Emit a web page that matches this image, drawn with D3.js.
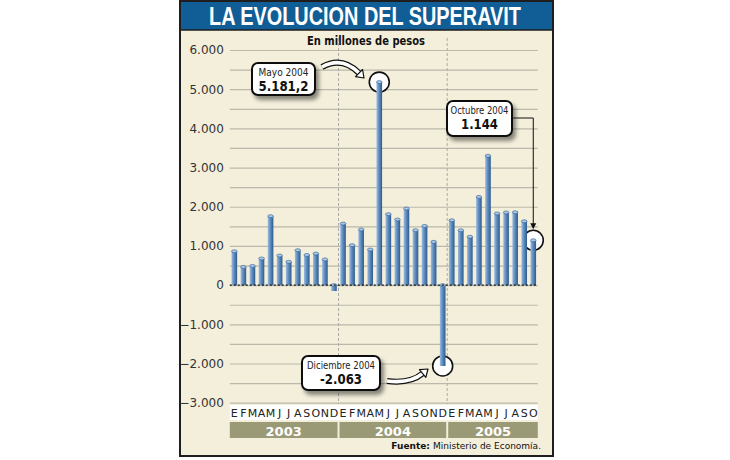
<!DOCTYPE html>
<html>
<head>
<meta charset="utf-8">
<script src="https://cdn.jsdelivr.net/npm/d3@7"></script>
<style>
  body { margin: 0; background: #fff; }
  svg { display: block; }
</style>
</head>
<body>
<svg id="chart" width="730" height="460"></svg>
<script>
// monthly data, Jan 2003 - Oct 2005 (millones de pesos)
const months = ['E','F','M','A','M','J','J','A','S','O','N','D',
                'E','F','M','A','M','J','J','A','S','O','N','D',
                'E','F','M','A','M','J','J','A','S','O'];
const years = ['2003', '2004', '2005'];
const yearMonths = [12, 12, 10];
const values = [865, 465, 490, 680, 1760, 755, 595, 890, 770, 805, 655, -150,
                1570, 1020, 1420, 910, 5181.2, 1810, 1675, 1955, 1400, 1510, 1105, -2063,
                1655, 1400, 1235, 2250, 3300, 1830, 1855, 1860, 1630, 1144];
const yTicks = [-3000, -2000, -1000, 0, 1000, 2000, 3000, 4000, 5000, 6000];
const gridTicks = d3.range(-3000, 6001, 500);
const callouts = [
    {idx: 16, label: 'Mayo 2004', value: '5.181,2'},
    {idx: 23, label: 'Diciembre 2004', value: '-2.063'},
    {idx: 33, label: 'Octubre 2004', value: '1.144'}
];

const svg = d3.select('#chart');
const locale = d3.formatLocale({decimal: ',', thousands: '.', grouping: [3], currency: ['$', '']});
const fmt = locale.format(',d');

const left = 229.8, right = 537.8;
const x = d3.scaleBand()
    .domain(d3.range(values.length))
    .range([left, right])
    .paddingInner(0.38)
    .paddingOuter(0.19);
const y = d3.scaleLinear()
    .domain([-3000, 6000])
    .range([402.7, 50]);

const defs = svg.append('defs');
const grad = defs.append('linearGradient').attr('id', 'barGrad')
    .attr('x1', 0).attr('x2', 1).attr('y1', 0).attr('y2', 0);
grad.append('stop').attr('offset', 0).attr('stop-color', '#9dbbe0');
grad.append('stop').attr('offset', 0.45).attr('stop-color', '#5f8dbf');
grad.append('stop').attr('offset', 1).attr('stop-color', '#2d5b8e');
const shadow = defs.append('filter').attr('id', 'shadow')
    .attr('x', '-20%').attr('y', '-20%').attr('width', '150%').attr('height', '160%');
shadow.append('feGaussianBlur').attr('in', 'SourceAlpha').attr('stdDeviation', 2);
shadow.append('feOffset').attr('dx', 3).attr('dy', 4).attr('result', 'off');
shadow.append('feComponentTransfer').append('feFuncA').attr('type', 'linear').attr('slope', 0.45);
const merge = shadow.append('feMerge');
merge.append('feMergeNode');
merge.append('feMergeNode').attr('in', 'SourceGraphic');

// frame
svg.append('rect')
    .attr('x', 180).attr('y', 1).attr('width', 373).attr('height', 455)
    .attr('fill', '#f3efdb').attr('stroke', '#1e1e1e').attr('stroke-width', 2);
svg.append('rect')
    .attr('x', 181).attr('y', 2).attr('width', 371).attr('height', 28)
    .attr('fill', '#115e96');
svg.append('line')
    .attr('x1', 181).attr('x2', 552).attr('y1', 30).attr('y2', 30)
    .attr('stroke', '#1e1e1e').attr('stroke-width', 1.5);
svg.append('text')
    .attr('x', 365).attr('y', 25)
    .attr('text-anchor', 'middle')
    .attr('textLength', 312).attr('lengthAdjust', 'spacingAndGlyphs')
    .attr('font-family', 'Liberation Sans, Arial, sans-serif')
    .attr('font-weight', 'bold').attr('font-size', 25)
    .attr('fill', '#fff')
    .text('LA EVOLUCION DEL SUPERAVIT');
svg.append('text')
    .attr('x', 366).attr('y', 45)
    .attr('text-anchor', 'middle')
    .attr('font-family', 'DejaVu Sans, sans-serif')
    .attr('font-weight', 'bold').attr('font-size', 11.5)
    .attr('textLength', 118).attr('lengthAdjust', 'spacingAndGlyphs')
    .attr('fill', '#111')
    .text('En millones de pesos');

// gridlines
const grid = svg.append('g')
    .attr('transform', `translate(${left},0)`)
    .call(d3.axisLeft(y).tickValues(gridTicks).tickSize(-(right - left)).tickFormat(''));
grid.select('.domain').remove();
grid.selectAll('.tick line').attr('stroke', '#bcb8ab').attr('stroke-width', 1.2);

// y axis labels
const yAxis = svg.append('g')
    .attr('transform', `translate(${left},0)`)
    .call(d3.axisLeft(y).tickValues(yTicks).tickSize(0).tickPadding(6).tickFormat(fmt));
yAxis.select('.domain').remove();
yAxis.selectAll('text')
    .attr('font-family', 'DejaVu Sans, sans-serif')
    .attr('font-size', 12)
    .attr('fill', '#333');

// year separators
let acc = 0;
const seps = [];
yearMonths.slice(0, -1).forEach(n => { acc += n; seps.push(acc); });
const halfGap = x.step() * x.paddingInner() / 2;
svg.selectAll('.sep')
    .data(seps)
    .join('line')
    .attr('class', 'sep')
    .attr('x1', d => x(d) - halfGap)
    .attr('x2', d => x(d) - halfGap)
    .attr('y1', 38).attr('y2', 404)
    .attr('stroke', '#aaa').attr('stroke-dasharray', '3,2');

// circles behind bars
svg.selectAll('.ring')
    .data(callouts)
    .join('circle')
    .attr('class', 'ring')
    .attr('cx', d => x(d.idx) + x.bandwidth() / 2)
    .attr('cy', d => y(values[d.idx]))
    .attr('r', 10)
    .attr('fill', '#fff').attr('stroke', '#111').attr('stroke-width', 1.6);

// bars
const bars = svg.selectAll('.bar')
    .data(values)
    .join('g')
    .attr('class', 'bar');
bars.append('rect')
    .attr('x', (d, i) => x(i))
    .attr('y', d => Math.min(y(d), y(0)))
    .attr('width', x.bandwidth())
    .attr('height', d => Math.abs(y(d) - y(0)))
    .attr('fill', 'url(#barGrad)');
bars.append('ellipse')
    .attr('cx', (d, i) => x(i) + x.bandwidth() / 2)
    .attr('cy', d => Math.min(y(d), y(0)))
    .attr('rx', x.bandwidth() / 2)
    .attr('ry', 1.5)
    .attr('fill', '#a8c6e6').attr('stroke', '#2d5b8e').attr('stroke-width', 0.6);

// zero line
svg.append('line')
    .attr('x1', left).attr('x2', right)
    .attr('y1', y(0)).attr('y2', y(0))
    .attr('stroke', '#111').attr('stroke-width', 1.3)
    .attr('stroke-dasharray', '2,2');

// month row
svg.append('rect')
    .attr('x', left).attr('y', 405).attr('width', right - left).attr('height', 15)
    .attr('fill', '#fff');
svg.selectAll('.month')
    .data(months)
    .join('text')
    .attr('class', 'month')
    .attr('x', (d, i) => x(i) + x.bandwidth() / 2)
    .attr('y', 417)
    .attr('text-anchor', 'middle')
    .attr('font-family', 'DejaVu Sans, sans-serif')
    .attr('font-size', 11)
    .attr('fill', '#222')
    .text(d => d);

// year bands
let start = 0;
const yearData = years.map((yr, i) => {
    const o = {year: yr, from: start, to: start + yearMonths[i] - 1};
    start += yearMonths[i];
    return o;
});
const bandX0 = d => d.from === 0 ? left : x(d.from) - halfGap + 1;
const bandX1 = d => d.to === values.length - 1 ? right : x(d.to) + x.bandwidth() + halfGap - 1;
svg.selectAll('.yearBand')
    .data(yearData)
    .join('rect')
    .attr('class', 'yearBand')
    .attr('x', bandX0)
    .attr('y', 422)
    .attr('width', d => bandX1(d) - bandX0(d))
    .attr('height', 16)
    .attr('fill', '#9b9a77');
svg.selectAll('.yearLabel')
    .data(yearData)
    .join('text')
    .attr('class', 'yearLabel')
    .attr('x', d => (bandX0(d) + bandX1(d)) / 2)
    .attr('y', 435.5)
    .attr('text-anchor', 'middle')
    .attr('font-family', 'DejaVu Sans, sans-serif')
    .attr('font-weight', 'bold').attr('font-size', 13)
    .attr('fill', '#fff')
    .text(d => d.year);

// source
const src = svg.append('text')
    .attr('x', 541).attr('y', 449)
    .attr('text-anchor', 'end')
    .attr('font-family', 'DejaVu Sans, sans-serif')
    .attr('font-size', 9)
    .attr('fill', '#111');
src.append('tspan').attr('font-weight', 'bold').text('Fuente: ');
src.append('tspan').text('Ministerio de Economía.');

// callout boxes
const boxes = [
    {x: 252, y: 63, w: 63, h: 32, lw: 50, vw: 50},
    {x: 302, y: 356, w: 78, h: 34, lw: 68, vw: 42},
    {x: 447, y: 101, w: 65, h: 35, lw: 58, vw: 37}
];
const boxG = svg.selectAll('.callout')
    .data(callouts)
    .join('g')
    .attr('class', 'callout');
boxG.append('rect')
    .attr('x', (d, i) => boxes[i].x).attr('y', (d, i) => boxes[i].y)
    .attr('width', (d, i) => boxes[i].w).attr('height', (d, i) => boxes[i].h)
    .attr('rx', 6)
    .attr('fill', '#fff').attr('stroke', '#111').attr('stroke-width', 2)
    .attr('filter', 'url(#shadow)');
boxG.append('text')
    .attr('x', (d, i) => boxes[i].x + boxes[i].w / 2)
    .attr('y', (d, i) => boxes[i].y + 13)
    .attr('text-anchor', 'middle')
    .attr('textLength', (d, i) => boxes[i].lw).attr('lengthAdjust', 'spacingAndGlyphs')
    .attr('font-family', 'DejaVu Sans, sans-serif')
    .attr('font-size', 10.5)
    .attr('fill', '#222')
    .text(d => d.label);
boxG.append('text')
    .attr('x', (d, i) => boxes[i].x + boxes[i].w / 2)
    .attr('y', (d, i) => boxes[i].y + 28)
    .attr('text-anchor', 'middle')
    .attr('textLength', (d, i) => boxes[i].vw).attr('lengthAdjust', 'spacingAndGlyphs')
    .attr('font-family', 'DejaVu Sans, sans-serif')
    .attr('font-weight', 'bold').attr('font-size', 14.5)
    .attr('fill', '#111')
    .text(d => d.value);

// curved white arrows
function curvedArrow(x0, y0, cx, cy, x1, y1) {
    const ang = Math.atan2(y1 - cy, x1 - cx);
    const head = 7, wid = 5;
    const bx = x1 - head * Math.cos(ang), by = y1 - head * Math.sin(ang);
    const g = svg.append('g');
    const p = `M${x0},${y0} Q${cx},${cy} ${bx},${by}`;
    g.append('path').attr('d', p).attr('fill', 'none')
        .attr('stroke', '#111').attr('stroke-width', 6);
    g.append('path').attr('d', p).attr('fill', 'none')
        .attr('stroke', '#fff').attr('stroke-width', 3.6);
    const px = -Math.sin(ang), py = Math.cos(ang);
    g.append('path')
        .attr('d', `M${x1},${y1} L${bx + px * wid},${by + py * wid} L${bx - px * wid},${by - py * wid} Z`)
        .attr('fill', '#fff').attr('stroke', '#111').attr('stroke-width', 1.2)
        .attr('stroke-linejoin', 'round');
}
curvedArrow(322, 67, 342, 56, 364, 78);
curvedArrow(387, 381, 410, 384, 428, 369);

// octubre leader line
const oct = callouts[2];
const ox = x(oct.idx) + x.bandwidth() / 2;
svg.append('path')
    .attr('d', `M512,118 H${ox} V${y(values[oct.idx]) - 14}`)
    .attr('fill', 'none').attr('stroke', '#111').attr('stroke-width', 1);
svg.append('path')
    .attr('d', `M${ox},${y(values[oct.idx]) - 11} l-3,-6 h6 Z`)
    .attr('fill', '#111');
</script>
</body>
</html>
